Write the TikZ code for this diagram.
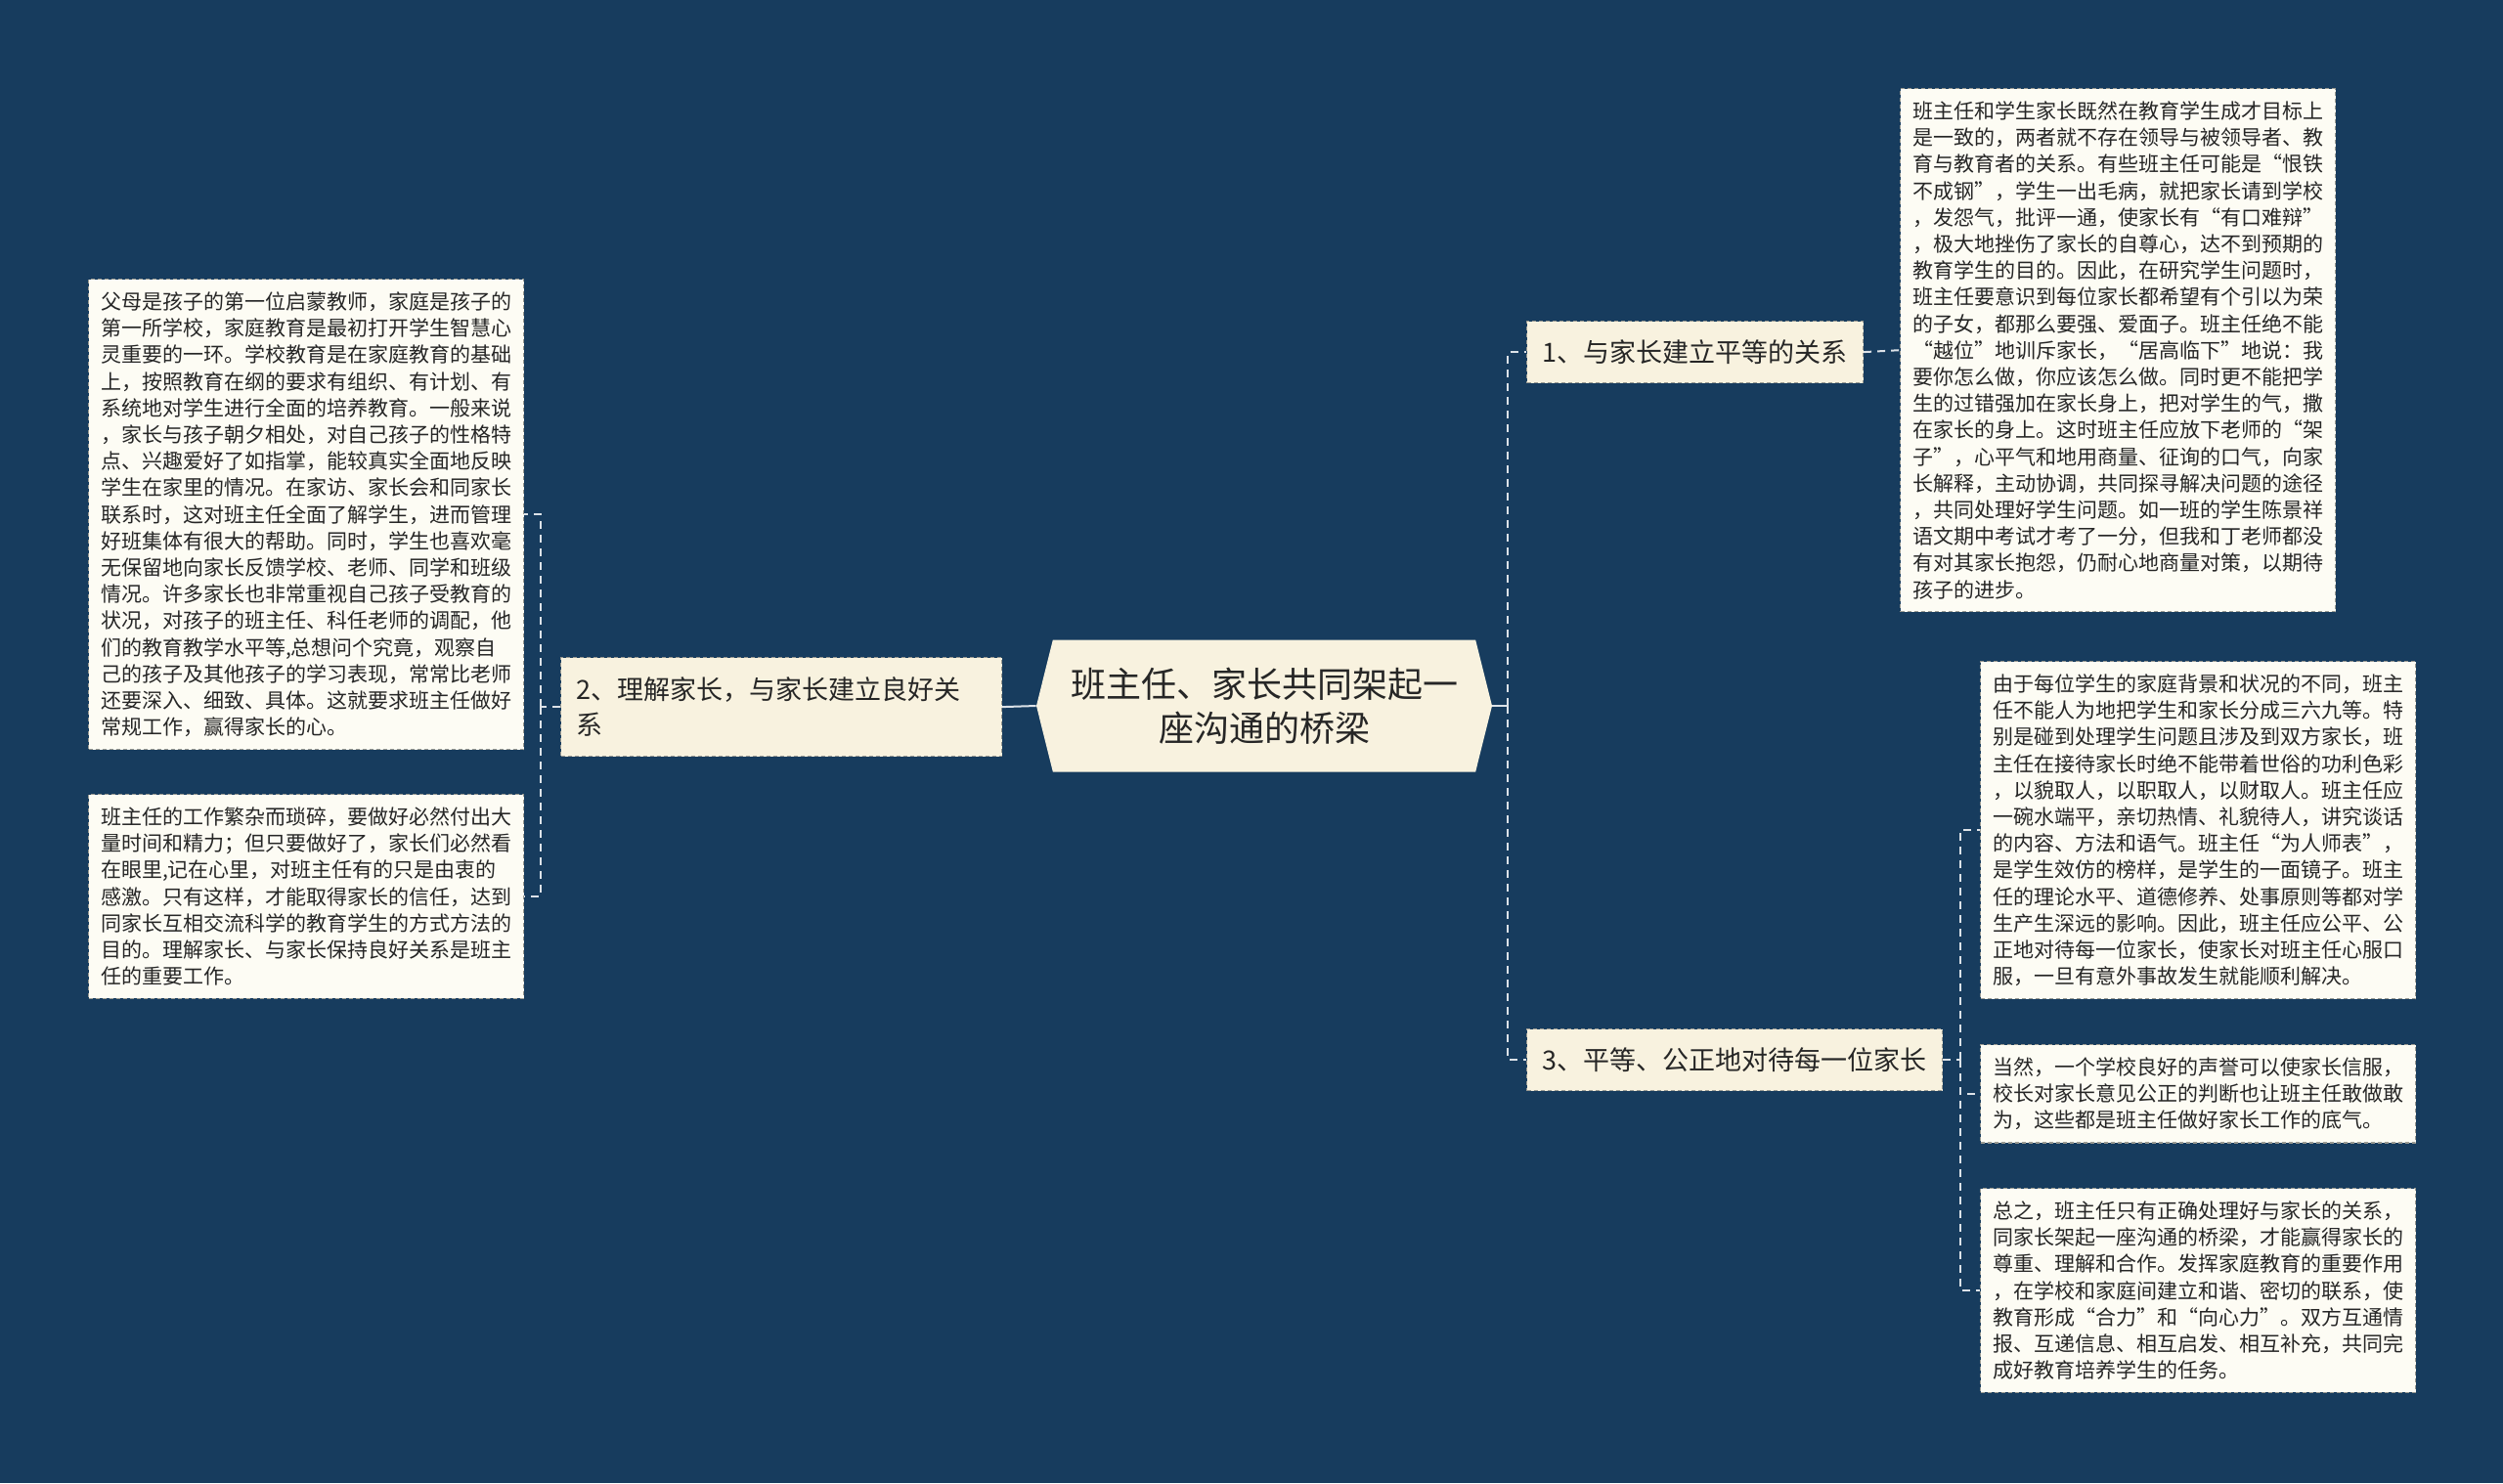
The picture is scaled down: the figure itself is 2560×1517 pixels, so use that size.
\documentclass[tikz,border=0pt]{standalone}
\usepackage{fontspec}
\setmainfont{Noto Sans CJK SC}
\usetikzlibrary{shapes.symbols}

\definecolor{bgblue}{HTML}{173C5E}
\definecolor{boxfill}{HTML}{FDFCF4}
\definecolor{branchfill}{HTML}{F8F2DF}
\definecolor{boxedge}{HTML}{9A9A92}
\definecolor{linkcol}{HTML}{DCE2E8}
\definecolor{inkgray}{HTML}{262626}

\tikzset{
  txtbox/.style={draw=boxedge, dash pattern=on 2pt off 1.5pt, line width=0.6pt, fill=boxfill,
    text=inkgray, text width=210pt, align=left, inner xsep=6.25pt, inner ysep=6.5pt,
    anchor=north west, font=\fontsize{10.5}{13.6}\selectfont},
  branch/.style={draw=boxedge, dash pattern=on 2pt off 1.5pt, line width=0.6pt, fill=branchfill,
    text=inkgray, inner xsep=8pt, minimum height=31.5pt, anchor=north west,
    font=\fontsize{13.5}{18}\selectfont},
  hub/.style={signal, signal to=west and east, signal pointer angle=152, fill=branchfill,
    text=inkgray, minimum width=233pt, minimum height=67.5pt, align=center,
    font=\fontsize{18}{22.5}\selectfont},
  link/.style={draw=linkcol, line width=1pt, dash pattern=on 4pt off 3pt},
  stub/.style={draw=linkcol, line width=1pt}
}

\begin{document}
\begin{tikzpicture}[x=0.5pt,y=-0.5pt]
\fill[bgblue] (0,0) rectangle (2560,1517);
\useasboundingbox (0,0) rectangle (2560,1517);

% centre and the three headings
\node[hub] (hub) at (1293,722) {班主任、家长共同架起一\\座沟通的桥梁};
\node[branch, text width=209.5pt, align=left, minimum height=50.5pt] (b2) at (573,672)
  {2、理解家长，与家长建立良好关\\系};
\node[branch] (b1) at (1561,328) {1、与家长建立平等的关系};
\node[branch] (b3) at (1561,1052) {3、平等、公正地对待每一位家长};

% left texts
\node[txtbox] (lt) at (90,285) {父母是孩子的第一位启蒙教师，家庭是孩子的\\
第一所学校，家庭教育是最初打开学生智慧心\\
灵重要的一环。学校教育是在家庭教育的基础\\
上，按照教育在纲的要求有组织、有计划、有\\
系统地对学生进行全面的培养教育。一般来说\\
，家长与孩子朝夕相处，对自己孩子的性格特\\
点、兴趣爱好了如指掌，能较真实全面地反映\\
学生在家里的情况。在家访、家长会和同家长\\
联系时，这对班主任全面了解学生，进而管理\\
好班集体有很大的帮助。同时，学生也喜欢毫\\
无保留地向家长反馈学校、老师、同学和班级\\
情况。许多家长也非常重视自己孩子受教育的\\
状况，对孩子的班主任、科任老师的调配，他\\
们的教育教学水平等,总想问个究竟，观察自\\
己的孩子及其他孩子的学习表现，常常比老师\\
还要深入、细致、具体。这就要求班主任做好\\
常规工作，赢得家长的心。};
\node[txtbox] (lb) at (90,812) {班主任的工作繁杂而琐碎，要做好必然付出大\\
量时间和精力；但只要做好了，家长们必然看\\
在眼里,记在心里，对班主任有的只是由衷的\\
感激。只有这样，才能取得家长的信任，达到\\
同家长互相交流科学的教育学生的方式方法的\\
目的。理解家长、与家长保持良好关系是班主\\
任的重要工作。};

% right texts
\node[txtbox] (rt) at (1943,90) {班主任和学生家长既然在教育学生成才目标上\\
是一致的，两者就不存在领导与被领导者、教\\
育与教育者的关系。有些班主任可能是“恨铁\\
不成钢”，学生一出毛病，就把家长请到学校\\
，发怨气，批评一通，使家长有“有口难辩”\\
，极大地挫伤了家长的自尊心，达不到预期的\\
教育学生的目的。因此，在研究学生问题时，\\
班主任要意识到每位家长都希望有个引以为荣\\
的子女，都那么要强、爱面子。班主任绝不能\\
“越位”地训斥家长，“居高临下”地说：我\\
要你怎么做，你应该怎么做。同时更不能把学\\
生的过错强加在家长身上，把对学生的气，撒\\
在家长的身上。这时班主任应放下老师的“架\\
子”，心平气和地用商量、征询的口气，向家\\
长解释，主动协调，共同探寻解决问题的途径\\
，共同处理好学生问题。如一班的学生陈景祥\\
语文期中考试才考了一分，但我和丁老师都没\\
有对其家长抱怨，仍耐心地商量对策，以期待\\
孩子的进步。};
\node[txtbox] (m1) at (2025,676) {由于每位学生的家庭背景和状况的不同，班主\\
任不能人为地把学生和家长分成三六九等。特\\
别是碰到处理学生问题且涉及到双方家长，班\\
主任在接待家长时绝不能带着世俗的功利色彩\\
，以貌取人，以职取人，以财取人。班主任应\\
一碗水端平，亲切热情、礼貌待人，讲究谈话\\
的内容、方法和语气。班主任“为人师表”，\\
是学生效仿的榜样，是学生的一面镜子。班主\\
任的理论水平、道德修养、处事原则等都对学\\
生产生深远的影响。因此，班主任应公平、公\\
正地对待每一位家长，使家长对班主任心服口\\
服，一旦有意外事故发生就能顺利解决。};
\node[txtbox] (m2) at (2025,1068) {当然，一个学校良好的声誉可以使家长信服，\\
校长对家长意见公正的判断也让班主任敢做敢\\
为，这些都是班主任做好家长工作的底气。};
\node[txtbox] (m3) at (2025,1215) {总之，班主任只有正确处理好与家长的关系，\\
同家长架起一座沟通的桥梁，才能赢得家长的\\
尊重、理解和合作。发挥家庭教育的重要作用\\
，在学校和家庭间建立和谐、密切的联系，使\\
教育形成“合力”和“向心力”。双方互通情\\
报、互递信息、相互启发、相互补充，共同完\\
成好教育培养学生的任务。};

% connectors
\draw[stub] (hub.west) -- (b2.east);
\draw[link] (b2.west) -- ++(-20,0) coordinate (lj);
\draw[link] (lj) |- (lt.east);
\draw[link] (lj) |- (lb.east);
\draw[stub] (hub.east) -- ++(16,0) coordinate (rj);
\draw[link] (rj) |- (b1.west);
\draw[link] (rj) |- (b3.west);
\draw[link] (b1.east) -- (rt.west);
\draw[link] (b3.east) -- ++(18,0) coordinate (mj);
\draw[link] (mj) |- (m1.west);
\draw[link] (mj) |- (m2.west);
\draw[link] (mj) |- (m3.west);
\end{tikzpicture}
\end{document}
